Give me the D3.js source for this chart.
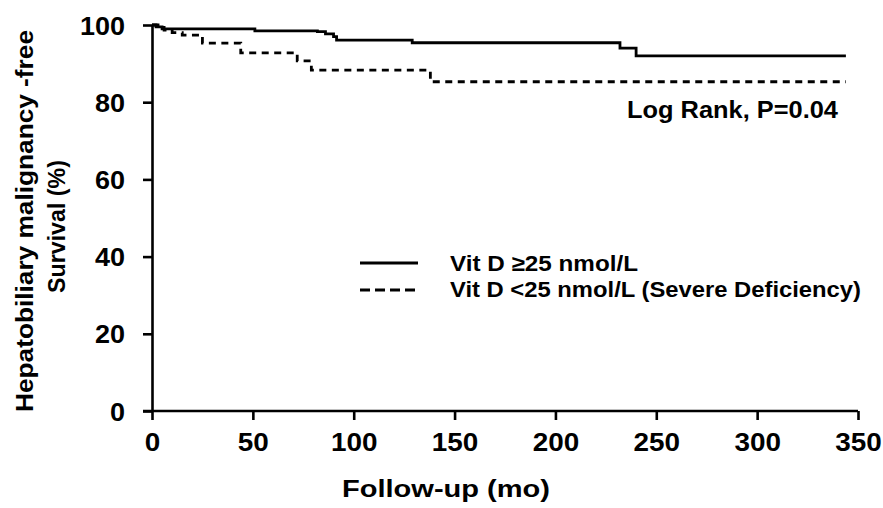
<!DOCTYPE html>
<html>
<head>
<meta charset="utf-8">
<script src="https://cdn.jsdelivr.net/npm/d3@7"></script>
<style>
html,body{margin:0;padding:0;background:#fff;}
svg text{font-family:"Liberation Sans",Arial,Helvetica,sans-serif;font-weight:bold;fill:#000;}
</style>
</head>
<body>
<svg id="chart" width="883" height="508"></svg>
<script>
// ---- data ----
const xTicks = [0, 50, 100, 150, 200, 250, 300, 350];
const yTicks = [0, 20, 40, 60, 80, 100];
const timeHigh = [0, 2, 5, 51, 82, 86, 90, 91.5, 129, 232, 240, 344];
const survHigh = [100, 99.5, 99.0, 98.5, 98.3, 97.7, 97.0, 96.1, 95.4, 94.0, 92.0, 92.0];
const timeLow = [0, 3, 6, 10, 15, 25, 44, 72, 79, 138, 344];
const survLow = [100, 99.4, 98.7, 98.0, 97.4, 95.3, 92.8, 90.7, 88.3, 85.3, 85.3];
const seriesNames = ["Vit D \u226525 nmol/L", "Vit D <25 nmol/L (Severe Deficiency)"];
const xLabel = "Follow-up (mo)";
const yLabelLines = ["Hepatobiliary malignancy -free", "Survival (%)"];
const annotation = "Log Rank, P=0.04";

const svg = d3.select("#chart");
const x = d3.scaleLinear().domain([0, 350]).range([152, 858]);
const y = d3.scaleLinear().domain([0, 100]).range([411, 25]);

// helper: stretch text horizontally to a target width
function fitWidth(sel, w) {
  sel.attr("textLength", w).attr("lengthAdjust", "spacingAndGlyphs");
}

// axes
const xAxis = svg.append("g").attr("transform", `translate(0,${y(0)})`)
  .call(d3.axisBottom(x).tickValues(xTicks).tickSize(9).tickSizeOuter(0).tickPadding(13));
const yAxis = svg.append("g").attr("transform", `translate(${x(0)},0)`)
  .call(d3.axisLeft(y).tickValues(yTicks).tickSize(9).tickSizeOuter(0).tickPadding(18));
[xAxis, yAxis].forEach(g => {
  g.select(".domain").attr("stroke", "#000").attr("stroke-width", 2.6);
  g.selectAll(".tick line").attr("stroke", "#000").attr("stroke-width", 2.6);
  g.selectAll(".tick text").style("font-size", "25.5px").attr("fill", "#000");
});
xAxis.selectAll(".tick text").each(function (d) {
  fitWidth(d3.select(this), String(d).length * 15.5);
});
yAxis.selectAll(".tick text").each(function (d) {
  fitWidth(d3.select(this), String(d).length * 15);
}).attr("dy", "0.36em");
// extend x-axis line to the left tick
xAxis.select(".domain").attr("d", `M${-9 + x(0)},0H${x(350)}`);

// curves
const line = d3.line().curve(d3.curveStepAfter).x(d => x(d[0])).y(d => y(d[1]));
const dataHigh = timeHigh.map((t, i) => [t, survHigh[i]]);
const dataLow = timeLow.map((t, i) => [t, survLow[i]]);
svg.append("path").datum(dataHigh).attr("d", line)
  .attr("fill", "none").attr("stroke", "#000").attr("stroke-width", 2.8);
svg.append("path").datum(dataLow).attr("d", line)
  .attr("fill", "none").attr("stroke", "#000").attr("stroke-width", 2.8)
  .attr("stroke-dasharray", "7,5.5");

// annotation
const ann = svg.append("text").attr("x", 627).attr("y", 118)
  .style("font-size", "24.5px").text(annotation);
fitWidth(ann, 211);

// legend
const legend = svg.append("g");
const ly = [263, 290];
legend.selectAll("line").data(seriesNames).join("line")
  .attr("x1", 360).attr("x2", 418)
  .attr("y1", (d, i) => ly[i]).attr("y2", (d, i) => ly[i])
  .attr("stroke", "#000").attr("stroke-width", 2.8)
  .attr("stroke-dasharray", (d, i) => i === 1 ? "10,5" : null);
const legW = [188, 411];
legend.selectAll("text").data(seriesNames).join("text")
  .attr("x", 450).attr("y", (d, i) => [271, 297][i])
  .style("font-size", "22px").text(d => d)
  .attr("textLength", (d, i) => legW[i]).attr("lengthAdjust", "spacingAndGlyphs");

// axis titles
const xl = svg.append("text").attr("x", 342).attr("y", 497)
  .style("font-size", "24px").text(xLabel);
fitWidth(xl, 208);
const yl = svg.append("text").attr("transform", "translate(0,222) rotate(-90)")
  .attr("text-anchor", "middle").style("font-size", "24.5px");
const ylW = [382, 133];
yl.selectAll("tspan").data(yLabelLines).join("tspan")
  .attr("x", (d, i) => [1, -4.5][i]).attr("y", (d, i) => [33, 65][i]).text(d => d)
  .attr("textLength", (d, i) => ylW[i]).attr("lengthAdjust", "spacingAndGlyphs");
</script>
</body>
</html>
